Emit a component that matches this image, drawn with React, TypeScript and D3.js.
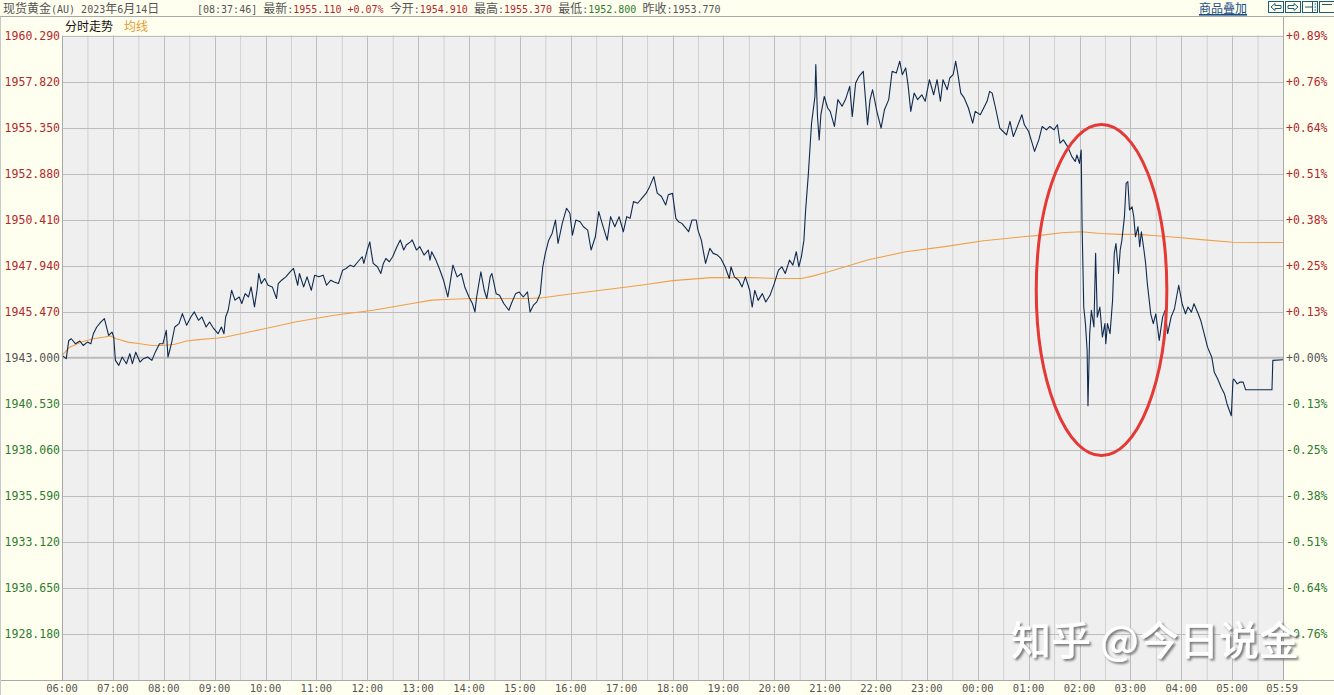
import React from 'react';
import * as d3 from 'd3';

const W = 1334;
const H = 695;

// minutes since 06:00 and price of the intraday line
const priceMinutes = [0,5,8,11,16,21,25,30,34,37,41,46,50,53,55,59,61,63,67,71,76,80,83,87,92,96,101,106,110,115,119,123,125,129,133,138,142,147,152,156,161,165,170,174,179,184,188,191,193,196,200,204,209,212,216,220,223,227,230,232,235,239,243,248,253,255,259,264,269,273,278,280,285,289,294,298,303,308,312,317,321,326,331,335,340,344,349,354,356,360,363,365,367,372,376,379,382,386,390,395,399,403,406,411,413,418,422,427,432,434,436,441,445,450,455,457,461,466,471,475,480,484,487,489,494,498,501,505,507,512,516,521,527,530,535,539,544,549,552,556,560,564,567,570,574,578,582,585,590,595,599,602,606,611,615,620,624,629,633,637,643,647,652,657,662,666,670,674,679,684,689,693,698,702,707,712,715,720,724,727,731,736,739,743,748,750,754,759,764,768,773,777,782,787,789,793,798,802,806,811,814,817,821,826,830,835,840,845,849,853,858,862,866,869,872,875,877,880,882,884,888,889,891,893,895,899,903,906,911,915,920,924,929,932,936,940,945,950,953,956,961,966,970,975,979,984,988,991,995,998,1001,1005,1009,1014,1018,1023,1028,1032,1036,1039,1044,1047,1051,1054,1057,1060,1064,1069,1074,1077,1083,1087,1091,1094,1097,1101,1106,1110,1114,1118,1122,1126,1132,1135,1140,1143,1147,1152,1156,1161,1165,1170,1174,1177,1181,1186,1191,1195,1197,1200,1202,1203,1205,1207,1209,1210,1212,1214,1217,1219,1221,1224,1227,1230,1231,1233,1236,1239,1241,1243,1246,1248,1250,1253,1255,1257,1259,1262,1264,1266,1269,1271,1273,1276,1278,1280,1284,1287,1290,1294,1298,1301,1304,1308,1312,1317,1321,1325,1328,1332,1335,1340,1343,1347,1351,1356,1359,1363,1367,1371,1374,1379,1381,1382,1386,1389,1393,1396,1427,1428,1440];
const priceValues = [1943.13,1942.95,1943.93,1944.02,1943.75,1943.90,1943.66,1943.84,1943.75,1944.29,1944.65,1944.92,1945.10,1944.56,1944.20,1944.38,1944.11,1942.86,1942.59,1943.04,1942.68,1943.22,1942.68,1943.30,1942.77,1942.95,1943.04,1942.86,1943.30,1943.75,1943.75,1944.47,1943.04,1943.75,1944.65,1944.83,1945.37,1944.74,1945.19,1945.46,1945.01,1945.19,1944.65,1944.92,1944.56,1944.29,1944.65,1944.29,1945.19,1945.55,1946.62,1946.09,1946.26,1945.91,1946.44,1946.26,1946.80,1945.73,1946.62,1947.52,1946.98,1947.25,1946.89,1946.80,1946.18,1946.98,1947.16,1947.34,1947.61,1947.79,1946.89,1947.52,1946.80,1947.34,1946.62,1947.43,1947.34,1947.43,1946.89,1947.16,1947.07,1946.98,1947.70,1947.79,1947.97,1947.88,1948.15,1948.42,1948.06,1948.78,1949.22,1948.60,1948.06,1947.88,1947.52,1948.06,1948.33,1948.15,1948.42,1948.96,1949.32,1948.78,1949.05,1949.22,1949.32,1948.78,1948.96,1948.51,1948.78,1948.24,1948.69,1948.24,1947.79,1947.16,1946.26,1946.80,1947.97,1947.34,1947.52,1946.80,1946.26,1945.91,1945.46,1946.26,1947.61,1946.62,1946.18,1947.34,1947.52,1946.44,1946.35,1945.91,1945.55,1945.91,1946.44,1946.53,1946.26,1946.53,1945.46,1945.82,1946.00,1946.44,1947.88,1948.60,1949.31,1949.67,1950.39,1949.13,1950.21,1951.02,1950.75,1949.58,1950.39,1950.30,1950.03,1949.85,1948.78,1949.49,1950.84,1950.21,1949.31,1950.57,1950.03,1950.57,1949.76,1950.57,1950.48,1951.38,1951.29,1951.56,1951.83,1952.18,1952.72,1951.83,1951.65,1951.20,1951.74,1951.82,1950.48,1950.30,1950.21,1949.94,1949.76,1950.39,1950.39,1949.85,1949.31,1948.06,1948.87,1948.60,1948.51,1948.33,1947.88,1947.25,1947.88,1947.34,1947.16,1946.80,1947.34,1946.62,1945.72,1946.62,1946.08,1946.44,1945.99,1946.35,1946.98,1947.70,1947.88,1947.52,1948.24,1947.97,1948.69,1947.88,1948.42,1949.31,1950.93,1952.72,1954.15,1955.59,1957.02,1958.73,1955.94,1954.69,1956.04,1957.02,1956.40,1956.22,1955.41,1956.85,1956.49,1956.85,1957.56,1955.94,1957.74,1958.10,1958.37,1955.50,1956.85,1957.38,1956.22,1955.32,1956.31,1956.85,1958.37,1958.28,1958.91,1958.19,1958.55,1957.56,1956.22,1957.20,1956.85,1957.11,1956.76,1957.92,1957.11,1957.92,1956.76,1957.92,1957.38,1958.01,1958.19,1958.91,1958.10,1957.20,1956.94,1956.40,1955.59,1956.22,1956.04,1956.40,1956.76,1957.29,1957.20,1956.40,1955.32,1955.14,1954.96,1955.68,1954.87,1955.32,1956.04,1955.50,1955.14,1954.69,1954.07,1954.69,1955.41,1955.23,1955.41,1955.23,1955.50,1954.51,1954.69,1954.33,1953.79,1953.53,1953.88,1953.43,1954.15,1950.21,1945.72,1944.83,1943.39,1940.43,1944.29,1945.54,1944.65,1948.60,1945.18,1945.72,1944.11,1944.83,1943.75,1944.83,1944.29,1946.08,1948.60,1949.13,1947.52,1948.78,1949.31,1950.57,1952.36,1952.45,1950.93,1951.10,1950.57,1949.49,1950.03,1948.96,1949.76,1948.78,1948.06,1946.98,1945.36,1944.83,1945.36,1943.93,1945.18,1945.54,1944.29,1945.18,1945.63,1946.89,1945.90,1945.36,1945.72,1945.45,1945.90,1945.36,1945.00,1944.29,1943.57,1943.03,1942.22,1941.86,1941.42,1941.06,1940.52,1939.89,1941.78,1941.86,1941.60,1941.69,1941.69,1941.28,1941.28,1942.86,1942.89];

// average line (均线)
const avgMinutes = [0,9,23,37,50,57,64,78,92,106,119,133,147,161,184,193,211,239,275,321,367,413,436,459,482,505,528,551,565,597,643,689,720,766,812,844,872,885,904,950,995,1041,1087,1133,1156,1179,1202,1225,1248,1271,1294,1317,1340,1381,1440];
const avgValues = [1943.13,1943.57,1943.84,1944.02,1944.11,1944.17,1944.02,1943.84,1943.75,1943.66,1943.66,1943.72,1943.90,1943.97,1944.06,1944.11,1944.29,1944.56,1944.92,1945.28,1945.55,1945.91,1946.09,1946.14,1946.18,1946.18,1946.18,1946.18,1946.21,1946.41,1946.66,1946.93,1947.14,1947.30,1947.30,1947.25,1947.25,1947.38,1947.61,1948.24,1948.69,1948.96,1949.28,1949.49,1949.58,1949.71,1949.76,1949.67,1949.62,1949.62,1949.53,1949.45,1949.35,1949.20,1949.18];

const yTicks = [1960.29,1957.82,1955.35,1952.88,1950.41,1947.94,1945.47,1943.0,1940.53,1938.06,1935.59,1933.12,1930.65,1928.18];
const yMin = 1925.71;
const yMax = 1960.29;
const basePrice = 1943.0;
const xTickMinutes = [0,60,120,180,240,300,360,420,480,540,600,660,720,780,840,900,960,1020,1080,1140,1200,1260,1320,1380,1439];
const xTickLabels = ['06:00','07:00','08:00','09:00','10:00','11:00','12:00','13:00','14:00','15:00','16:00','17:00','18:00','19:00','20:00','21:00','22:00','23:00','00:00','01:00','02:00','03:00','04:00','05:00','05:59'];

// highlighted zone (red ellipse): centre time, centre price, half-width in minutes, half-height in price
const highlight = { minute: 1226, price: 1946.63, halfMinutes: 77, halfPrice: 8.88 };

const RED = '#B3272A';
const GREEN = '#2E7B2E';
const GRAY = '#555555';
const MONO = "'DejaVu Sans Mono', monospace";
const CJK = "'Noto Sans CJK SC', sans-serif";

function runs(s: string) {
  const out: { t: string; cjk: boolean }[] = [];
  let cur = '';
  let curCJK: boolean | null = null;
  for (const ch of s) {
    const cjk = /[\u3000-\u9fff\uff00-\uffef]/.test(ch);
    if (curCJK === null || cjk === curCJK) {
      cur += ch;
      curCJK = cjk;
    } else {
      out.push({ t: cur, cjk: curCJK });
      cur = ch;
      curCJK = cjk;
    }
  }
  if (cur) out.push({ t: cur, cjk: !!curCJK });
  return out;
}

function Mixed({ segs, x, y, anchor }: { segs: { t: string; c: string }[]; x: number; y: number; anchor?: string }) {
  return (
    <text x={x} y={y} textAnchor={anchor || 'start'} style={{ whiteSpace: 'pre' }}>
      {segs.flatMap((s, i) =>
        runs(s.t).map((r, j) => (
          <tspan key={i + '-' + j} fill={s.c} fontFamily={r.cjk ? CJK : MONO} fontSize={r.cjk ? 12 : 10}>
            {r.t}
          </tspan>
        ))
      )}
    </text>
  );
}

export default function App() {
  const left = 62;
  const right = 1283;
  const top = 35.5;
  const bottom = 680;
  const x = d3.scaleLinear().domain([0, 1440]).range([left, right]);
  const y = d3.scaleLinear().domain([yMin, yMax]).range([bottom, top]);

  const priceData = priceMinutes.map((m, i) => [m, priceValues[i]] as [number, number]);
  const avgData = avgMinutes.map((m, i) => [m, avgValues[i]] as [number, number]);
  const line = d3.line<[number, number]>().x(d => x(d[0])).y(d => y(d[1]));

  const hours = d3.range(1, 24).map(h => h * 60);
  const halfHours = d3.range(0, 24).map(h => h * 60 + 30);
  const gridPrices = yTicks.filter(v => v !== yMax && v !== basePrice);

  const pct = (v: number) => {
    const p = ((v - basePrice) / basePrice) * 100;
    const s = Math.abs(p) < 0.0005 ? '+0.00' : (p > 0 ? '+' : '-') + Math.abs(p).toFixed(2);
    return s + '%';
  };
  const colorFor = (v: number) => (Math.abs(v - basePrice) < 1e-6 ? GRAY : v > basePrice ? RED : GREEN);

  const header = [
    { t: '[08:37:46] 最新:', c: GRAY },
    { t: '1955.110 +0.07%', c: RED },
    { t: ' 今开:', c: GRAY },
    { t: '1954.910', c: RED },
    { t: ' 最高:', c: GRAY },
    { t: '1955.370', c: RED },
    { t: ' 最低:', c: GRAY },
    { t: '1952.800', c: GREEN },
    { t: ' 昨收:', c: GRAY },
    { t: '1953.770', c: GRAY },
  ];

  const ex = x(highlight.minute);
  const ey = y(highlight.price);
  const erx = x(highlight.minute + highlight.halfMinutes) - ex;
  const ery = y(highlight.price - highlight.halfPrice) - ey;

  return (
    <svg width={W} height={H} style={{ position: 'absolute', left: 0, top: 0, display: 'block' }}>
      <defs>
        <filter id="wmShadow" x="-10%" y="-30%" width="130%" height="170%">
          <feDropShadow dx="2" dy="2" stdDeviation="1.2" floodColor="#6f6f6f" floodOpacity="0.9" />
        </filter>
      </defs>
      <rect x={0} y={0} width={W} height={H} fill="#FFFFF0" />
      {/* header */}
      <Mixed segs={[{ t: '现货黄金(AU) 2023年6月14日', c: GRAY }]} x={3} y={13} />
      <Mixed segs={header} x={197} y={13} />
      <text x={1199} y={13} fontFamily={CJK} fontSize={12} fill="#1D4E86" textDecoration="underline">商品叠加</text>
      <line x1={1199} x2={1247} y1={15} y2={15} stroke="#1D4E86" strokeWidth={1} />
      {[1268, 1285, 1302, 1319].map((bx, i) => (
        <g key={i} stroke="#1B5C78" fill="none" strokeWidth={1}>
          <rect x={bx + 0.5} y={1.5} width={15} height={11} />
          {i === 0 && <path d={`M${bx + 3},7 L${bx + 7},3.5 L${bx + 7},5.5 L${bx + 13},5.5 L${bx + 13},8.5 L${bx + 7},8.5 L${bx + 7},10.5 Z`} />}
          {i === 1 && <path d={`M${bx + 13},7 L${bx + 9},3.5 L${bx + 9},5.5 L${bx + 3},5.5 L${bx + 3},8.5 L${bx + 9},8.5 L${bx + 9},10.5 Z`} />}
          {i === 2 && <path d={`M${bx + 3},7 L${bx + 10},7 M${bx + 10.5},2 L${bx + 10.5},12 M${bx + 12.5},4 L${bx + 14},4 M${bx + 12.5},7 L${bx + 14},7 M${bx + 12.5},10 L${bx + 14},10`} />}
          {i === 3 && <path d={`M${bx + 3},4.5 L${bx + 13},4.5`} />}
        </g>
      ))}
      <line x1={0} x2={W} y1={16.5} y2={16.5} stroke="#A8A8A8" />
      {/* sub header */}
      <text x={65} y={31} fontFamily={CJK} fontSize={12} fill="#111">分时走势</text>
      <text x={124} y={31} fontFamily={CJK} fontSize={12} fill="#E39A2C">均线</text>

      {/* plot background */}
      <rect x={left} y={top} width={right - left} height={bottom - top} fill="#EFEFEF" />
      {halfHours.map(m => (
        <line key={'hh' + m} x1={x(m) + 0.5} x2={x(m) + 0.5} y1={top} y2={bottom} stroke="#B4B4B4" strokeDasharray="1,1" />
      ))}
      {hours.map(m => (
        <line key={'h' + m} x1={Math.round(x(m)) + 0.5} x2={Math.round(x(m)) + 0.5} y1={top} y2={bottom} stroke="#BDBDBD" />
      ))}
      {gridPrices.map(v => (
        <line key={'g' + v} x1={left} x2={right} y1={Math.round(y(v)) + 0.5} y2={Math.round(y(v)) + 0.5} stroke="#BDBDBD" />
      ))}
      <line x1={left} x2={right} y1={Math.round(y(yMax)) + 0.5} y2={Math.round(y(yMax)) + 0.5} stroke="#BDBDBD" />
      <line x1={left} x2={right} y1={y(basePrice)} y2={y(basePrice)} stroke="#BBBBBB" strokeWidth={2} />

      {/* average line */}
      <path d={line(avgData) || ''} fill="none" stroke="#F0A046" strokeWidth={1.1} />
      {/* price line */}
      <path d={line(priceData) || ''} fill="none" stroke="#0F2A4E" strokeWidth={1.1} strokeLinejoin="round" />

      {/* frame */}
      <line x1={left + 0.5} x2={left + 0.5} y1={top} y2={bottom} stroke="#A8A8A8" />
      <line x1={right + 0.5} x2={right + 0.5} y1={16.5} y2={bottom} stroke="#A8A8A8" />
      <line x1={0} x2={W} y1={bottom + 0.5} y2={bottom + 0.5} stroke="#A8A8A8" />
      <line x1={0.5} x2={0.5} y1={16.5} y2={H} stroke="#C8C8C8" />

      {/* left axis */}
      {yTicks.map(v => (
        <text key={'l' + v} x={60} y={y(v) + 4} textAnchor="end" fontFamily={MONO} fontSize={11.5} fill={colorFor(v)}>
          {v.toFixed(3)}
        </text>
      ))}
      {/* right axis */}
      {yTicks.map(v => (
        <text key={'r' + v} x={1286} y={y(v) + 4} fontFamily={MONO} fontSize={11.5} fill={colorFor(v)}>
          {pct(v)}
        </text>
      ))}
      {/* bottom axis */}
      {xTickMinutes.map((m, i) => (
        <text key={'x' + m} x={x(m)} y={692} textAnchor="middle" fontFamily={MONO} fontSize={10.5} fill={GRAY}>
          {xTickLabels[i]}
        </text>
      ))}

      {/* annotation ellipse */}
      <ellipse cx={ex} cy={ey} rx={erx} ry={ery} fill="none" stroke="#E53935" strokeWidth={3} />

      {/* watermark */}
      <text x={1011} y={655} fontFamily={CJK} fontSize={40} fontWeight={500} fill="#FFFFFF" filter="url(#wmShadow)" style={{ whiteSpace: 'pre' }}>
        知乎 @今日说金
      </text>
    </svg>
  );
}
